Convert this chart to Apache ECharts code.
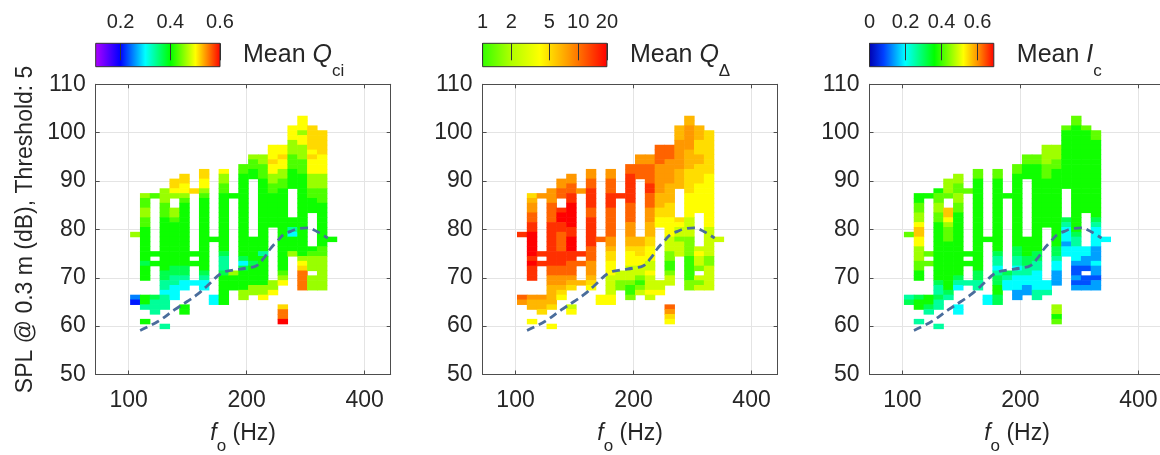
<!DOCTYPE html>
<html>
<head>
<meta charset="utf-8">
<script src="https://cdn.jsdelivr.net/npm/echarts@6/dist/echarts.min.js"></script>
<style>
  html, body { margin: 0; padding: 0; background: #fff; }
  #chart { width: 1160px; height: 455px; }
</style>
</head>
<body>
<div id="chart"></div>
<script>
// ---- data: cells are grouped in vertical runs (MIDI note column, top dB), codes read top -> bottom ----
var SEG_MIDI = [44,44, 45,45,45, 46,46,46,46, 47,47, 48,48, 49,49, 50,50,50,50, 51, 52,52, 53, 54,54, 55,
                56,56, 57, 58,58, 59,59, 60,60, 61, 62,62,62, 63, 64];
var SEG_TOP  = [79,66, 87,66,61, 87,75,73,66, 88,60, 90,84, 91,64, 88,75,73,69, 92, 78,66, 92, 87,71, 93,
                95,78, 95, 97,69, 97,64, 101,82, 103, 101,76,70, 100, 78];

// Mean Q_ci
var QCI_CODES = [
  'l', 'bB',
  'lhhllhhgggggggnggg', 'ggm', 'g',
  'h', 'g', 'g', 'nmmm',
  'lllhhh' + 'ggggggggggg' + 'nnmmc' + 'mmm', 'm',
  'zzyl', 'llh' + 'ggggggggg' + 'nnmmccc',
  'zzyylh' + 'ggggggggggggg' + 'nnmcc', 'gg',
  'z', 'g', 'g', 'c',
  'zzyylh' + 'ggggggggggggggg' + 'nmcc',
  'g', 'cc',
  'yllhh' + 'gggggggggggg' + 'nmmmn' + 'gggggg',
  'g', 'lggg',
  'hh' + 'ggggggggggggggggg' + 'ncn' + 'gggg' + 'll',
  'lhhgg', 'gggggnggggll',
  'llhhh' + 'ggggggggggggggg' + 'm' + 'gggggg' + 'lly',
  'yyyzyyllhhggggggg', 'lly',
  'yyzyyllhhg' + 'gggggggggggggggg' + 'hly', 'zoor',
  'yyylllhhhgggg', 'ggmcgggl',
  'yyylyylllhhh' + 'gggggggggggggggg' + 'glyzoooo',
  'zzzzzyzyyylllhhggg', 'ghlll', 'lll',
  'zzzzzyyyylllhhh' + 'ggggggggg' + 'hh' + 'lllllll',
  'g'
];
var QCI_LEVELS = { B: 0.21, b: 0.25, c: 0.30, m: 0.34, n: 0.37, g: 0.405, h: 0.43, l: 0.46, y: 0.50, z: 0.515, o: 0.555, r: 0.60 };

// Mean Q_delta
var QD_CODES = [
  'r', 'po',
  'zaoopprrRRRRRrRrrr', 'oaa', 'y',
  'o', 'r', 'r', 'oaaz',
  'ooopppp' + 'rrrrrrrrr' + 'ppooaa' + 'aaz', 'y',
  'oopp', 'rRRrrpppprrrppooazy',
  'oopprrRRRRRrrRRRrrpppoaz', 'ly',
  'o', 'r', 'p', 'a',
  'oopprrrrpprrrrrrpppoooazy',
  'p', 'yy',
  'ooppprrrppppppooazzyyyllllyy',
  'r', 'llgg',
  'pprrrrrrppppoooaazyyylllgGGg',
  'ooppp', 'aazzyyllgGgl',
  'oopppprrpppoooaaazzyyyllylllyl',
  'ppppooooooaaazzyy', 'lly',
  'pppoooooaaaazzzyyyylllggGGgll', 'pozy',
  'aaaooooooaaaa', 'zyllglll',
  'aaoooooaaaazzzzzyyyyyllllggggGGGGGgg',
  'aaazzzaazzzzyyyyyy', 'lyllg', 'lgl',
  'zzzzzzzzz' + 'yyyyyyyyyyy' + 'llllll' + 'gg' + 'lllll',
  'l'
];
var QD_LEVELS = { G: 1.0, g: 1.5, l: 2.5, y: 4, z: 5, a: 6.5, o: 8, p: 11, r: 15, R: 20 };

// Mean I_c
var IC_CODES = [
  'h', 'mn',
  'gghhllyzzyylllhhgg', 'ngg', 'm',
  'g', 'h', 'h', 'ggnm',
  'ghhllhh' + 'gggggggggggg' + 'nmmnmm', 'm',
  'lllh', 'zzylhhh' + 'gggggggggg' + 'nm',
  'llhhllhh' + 'ggggggggggggg' + 'nmc', 'cc',
  'h', 'g', 'g', 'm',
  'hh' + 'ggggggggggggggggggg' + 'nnmm',
  'g', 'cc',
  'hh' + 'ggggggggggggggg' + 'nmmcm' + 'nnggnn',
  'g', 'nmcc',
  'hh' + 'ggggggggggggggg' + 'nnmmc' + 'mccc' + 'bb',
  'hhggg', 'ggggnnmmccbb',
  'hh' + 'gggggggggggggggggg' + 'nnmmccccmm',
  'llllhhhgggggggggg', 'ccm',
  'lllhh' + 'gggggggggggggggg' + 'nnmccbbb', 'llgh',
  'hgggggggggggg', 'nmcccbcc',
  'hh' + 'gggggggggggggggggggggg' + 'nmm' + 'ccc' + 'bBBbBb',
  'hggggggggggggggggg', 'ccbbB', 'BBb',
  'hh' + 'gggggggggggggggg' + 'nmccccbbbcbbBbb',
  'c'
];
var IC_LEVELS = { B: 0.09, b: 0.14, c: 0.2, m: 0.26, n: 0.31, g: 0.37, h: 0.42, l: 0.46, y: 0.52, z: 0.56, o: 0.6 };

// dashed reference contour
var CURVE_HZ = [107, 119, 131, 141, 150, 159, 173, 185, 200, 212, 221, 230, 239, 249, 259, 269, 286, 303, 322];
var CURVE_DB = [59.1, 61.0, 63.4, 65.1, 66.6, 68.4, 71.0, 71.6, 72.0, 72.5, 74.0, 76.0, 77.5, 79.0, 79.6, 80.1, 80.3, 79.5, 78.2];

var X_TICKS_HZ = [100, 200, 400];
var QCI_TICKS = [0.2, 0.4, 0.6];
var QD_TICKS = [1, 2, 5, 10, 20];
var IC_TICKS = [0, 0.2, 0.4, 0.6];

// colour maps (stops in the colour-bar's own units)
var QCI_STOPS = [[0.1, '#b000ff'], [0.2, '#0000ff'], [0.3, '#00ffff'], [0.4, '#00ff00'], [0.5, '#ffff00'], [0.6, '#ff0000']];
var QD_STOPS = [[0, '#33ff00'], [0.3, '#b0ff00'], [0.6, '#ffff00'], [0.9, '#ff9900'], [Math.log10(20), '#ff0000']];
var IC_STOPS = [[0, '#0000b0'], [0.08, '#0040ff'], [0.2, '#00ffff'], [0.36, '#00ff00'], [0.52, '#ffff00'], [0.6, '#ff9000'], [0.69, '#ff0000']];

// ---- helpers ----
var FONT = "'Liberation Sans', Arial, sans-serif";
var AXIS_COLOR = '#4d4d4d';
var TEXT_COLOR = '#262626';
var GRID_COLOR = '#e4e4e4';

function hzToMidi(f) { return 69 + 12 * Math.log2(f / 440); }
function midiToHz(m) { return 440 * Math.pow(2, (m - 69) / 12); }

function hexRgb(h) {
  return [parseInt(h.substr(1, 2), 16), parseInt(h.substr(3, 2), 16), parseInt(h.substr(5, 2), 16)];
}
function makeCmap(stops) {
  return function(v) {
    if (v <= stops[0][0]) return stops[0][1];
    for (var i = 1; i < stops.length; i++) {
      if (v <= stops[i][0]) {
        var t = (v - stops[i - 1][0]) / (stops[i][0] - stops[i - 1][0]);
        var a = hexRgb(stops[i - 1][1]), b = hexRgb(stops[i][1]);
        return 'rgb(' + Math.round(a[0] + (b[0] - a[0]) * t) + ',' +
          Math.round(a[1] + (b[1] - a[1]) * t) + ',' + Math.round(a[2] + (b[2] - a[2]) * t) + ')';
      }
    }
    return stops[stops.length - 1][1];
  };
}

function buildCells(codes, levels, tf) {
  var out = [];
  for (var s = 0; s < SEG_MIDI.length; s++) {
    var str = codes[s] || '';
    for (var j = 0; j < str.length; j++) {
      var c = str.charAt(j);
      if (levels[c] === undefined) continue;
      out.push([SEG_MIDI[s], SEG_TOP[s] - j, tf(levels[c])]);
    }
  }
  return out;
}

var ident = function(v) { return v; };
var PANELS = [
  { codes: QCI_CODES, levels: QCI_LEVELS, stops: QCI_STOPS, tf: ident, cbMin: 0.1, cbMax: 0.6, ticks: QCI_TICKS,
    fmt: function(v) { return v.toFixed(1); }, title: '{m|Mean }{q|Q}{s|ci}' },
  { codes: QD_CODES, levels: QD_LEVELS, stops: QD_STOPS, tf: Math.log10, cbMin: 1, cbMax: 20, ticks: QD_TICKS,
    fmt: function(v) { return String(Math.round(Math.pow(10, v))); }, title: '{m|Mean }{q|Q}{s|Δ}' },
  { codes: IC_CODES, levels: IC_LEVELS, stops: IC_STOPS, tf: ident, cbMin: 0, cbMax: 0.69, ticks: IC_TICKS,
    fmt: function(v) { return v === 0 ? '0' : v.toFixed(1); }, title: '{m|Mean }{q|I}{s|c}' }
];

var PLOT_LEFT = [95.7, 482.6, 869.5];
var PLOT_TOP = 84.3, PLOT_W = 295, PLOT_H = 290.2;
var CB_TOP = 43.3, CB_H = 23.4, CB_W = 124.3;

var xTickMidi = X_TICKS_HZ.map(hzToMidi);
var curveData = CURVE_HZ.map(function(f, i) { return [hzToMidi(f), CURVE_DB[i]]; });

var grids = [], xAxes = [], yAxes = [], series = [], titles = [];

PANELS.forEach(function(p, i) {
  var cmap = makeCmap(p.stops);
  var tickVals = p.ticks.map(p.tf);
  var cbMin = p.tf(p.cbMin), cbMax = p.tf(p.cbMax);

  grids.push({ left: PLOT_LEFT[i], top: PLOT_TOP, width: PLOT_W, height: PLOT_H, outerBoundsMode: 'none', containLabel: false });
  grids.push({ left: PLOT_LEFT[i], top: CB_TOP, width: CB_W, height: CB_H, outerBoundsMode: 'none', containLabel: false });

  xAxes.push({
    type: 'value', gridIndex: 2 * i, min: 40, max: 70, position: 'bottom',
    axisLine: { show: true, onZero: false, lineStyle: { color: AXIS_COLOR } },
    axisTick: { show: true, inside: true, length: 4, customValues: xTickMidi, lineStyle: { color: AXIS_COLOR } },
    axisLabel: { customValues: xTickMidi, formatter: function(v) { return Math.round(midiToHz(v)); },
      fontSize: 23, color: TEXT_COLOR, fontFamily: FONT, margin: 15 },
    splitLine: { show: true, lineStyle: { color: GRID_COLOR } },
    name: '{f|f}{o|o}{h| (Hz)}', nameLocation: 'middle', nameGap: 38,
    nameTextStyle: { color: TEXT_COLOR, fontFamily: FONT, rich: {
      f: { fontSize: 23, fontStyle: 'italic', lineHeight: 42, fontFamily: FONT, color: TEXT_COLOR },
      o: { fontSize: 17, lineHeight: 17, verticalAlign: 'bottom', fontFamily: FONT, color: TEXT_COLOR },
      h: { fontSize: 23, lineHeight: 42, fontFamily: FONT, color: TEXT_COLOR } } }
  });
  xAxes.push({
    type: 'value', gridIndex: 2 * i, min: 40, max: 70, position: 'top',
    axisLine: { show: true, onZero: false, lineStyle: { color: AXIS_COLOR } },
    axisTick: { show: true, inside: true, length: 4, customValues: xTickMidi, lineStyle: { color: AXIS_COLOR } },
    axisLabel: { show: false }, splitLine: { show: false }
  });
  xAxes.push({
    type: 'value', gridIndex: 2 * i + 1, min: cbMin, max: cbMax, position: 'top', z: 5,
    axisLine: { show: false, onZero: false },
    axisTick: { show: true, inside: true, length: 17, customValues: tickVals, lineStyle: { color: '#333' } },
    axisLabel: { customValues: tickVals, formatter: p.fmt, fontSize: 20, color: TEXT_COLOR, fontFamily: FONT, margin: 11 },
    splitLine: { show: false }
  });

  yAxes.push({
    type: 'value', gridIndex: 2 * i, min: 50, max: 110, interval: 10, position: 'left',
    axisLine: { show: true, onZero: false, lineStyle: { color: AXIS_COLOR } },
    axisTick: { show: true, inside: true, length: 4, lineStyle: { color: AXIS_COLOR } },
    axisLabel: { fontSize: 23, color: TEXT_COLOR, fontFamily: FONT, margin: 10 },
    splitLine: { show: true, lineStyle: { color: GRID_COLOR } },
    name: i === 0 ? 'SPL @ 0.3 m (dB), Threshold: 5' : '', nameLocation: 'middle', nameGap: 59,
    nameTextStyle: { fontSize: 23, color: TEXT_COLOR, fontFamily: FONT }
  });
  yAxes.push({
    type: 'value', gridIndex: 2 * i, min: 50, max: 110, interval: 10, position: 'right',
    axisLine: { show: true, onZero: false, lineStyle: { color: AXIS_COLOR } },
    axisTick: { show: true, inside: true, length: 4, lineStyle: { color: AXIS_COLOR } },
    axisLabel: { show: false }, splitLine: { show: false }
  });
  yAxes.push({
    type: 'value', gridIndex: 2 * i + 1, min: 0, max: 1, show: false
  });

  // heat-map cells
  series.push({
    type: 'custom', xAxisIndex: 3 * i, yAxisIndex: 3 * i, z: 2,
    data: buildCells(p.codes, p.levels, p.tf),
    renderItem: function(params, api) {
      var a = api.coord([api.value(0) - 0.5, api.value(1) + 0.5]);
      var b = api.coord([api.value(0) + 0.5, api.value(1) - 0.5]);
      return { type: 'rect',
        shape: { x: a[0], y: a[1], width: b[0] - a[0] + 0.6, height: b[1] - a[1] + 0.6 },
        style: { fill: cmap(api.value(2)) } };
    }
  });

  // dashed contour
  series.push({
    type: 'line', xAxisIndex: 3 * i, yAxisIndex: 3 * i, z: 3,
    data: curveData, smooth: 0.4, symbol: 'none',
    lineStyle: { color: '#4a6d9c', width: 2.8, type: [8, 5] }
  });

  // colour bar
  var span = cbMax - cbMin;
  var gradStops = p.stops.map(function(s) { return { offset: Math.max(0, Math.min(1, (s[0] - cbMin) / span)), color: s[1] }; });
  series.push({
    type: 'custom', xAxisIndex: 3 * i + 2, yAxisIndex: 3 * i + 2, z: 1,
    data: [[cbMin, cbMax]],
    renderItem: function(params, api) {
      var a = api.coord([api.value(0), 1]);
      var b = api.coord([api.value(1), 0]);
      return { type: 'rect',
        shape: { x: a[0], y: a[1], width: b[0] - a[0], height: b[1] - a[1] },
        style: { fill: new echarts.graphic.LinearGradient(0, 0, 1, 0, gradStops), stroke: '#333', lineWidth: 1 } };
    }
  });

  titles.push({
    text: p.title, left: 243 + 386.9 * i, top: 31, padding: 0,
    textStyle: { fontWeight: 'normal', rich: {
      m: { fontSize: 25, lineHeight: 49, fontWeight: 'normal', color: TEXT_COLOR, fontFamily: FONT },
      q: { fontSize: 25, lineHeight: 49, fontWeight: 'normal', fontStyle: 'italic', color: TEXT_COLOR, fontFamily: FONT },
      s: { fontSize: 17, lineHeight: 17, fontWeight: 'normal', verticalAlign: 'bottom', color: TEXT_COLOR, fontFamily: FONT } } }
  });
});

var chart = echarts.init(document.getElementById('chart'), null, { renderer: 'canvas' });
chart.setOption({
  animation: false,
  backgroundColor: '#ffffff',
  title: titles,
  grid: grids,
  xAxis: xAxes,
  yAxis: yAxes,
  series: series
});
</script>
</body>
</html>
